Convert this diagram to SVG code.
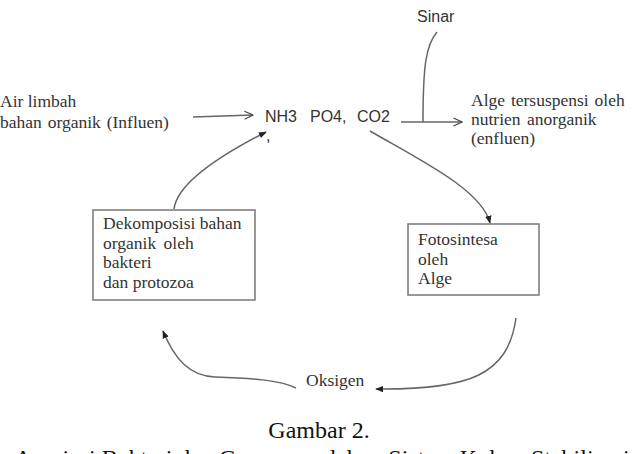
<svg xmlns="http://www.w3.org/2000/svg" width="634" height="454" viewBox="0 0 634 454">
<style>
.serif{font-family:"Liberation Serif","Times New Roman",serif;font-size:17.5px;fill:#333}
.sans{font-family:"Liberation Sans",Arial,sans-serif;font-size:16px;fill:#333}
.cap{font-family:"Liberation Serif","Times New Roman",serif;font-size:24px;fill:#111}
.box{fill:#fff;stroke:#777;stroke-width:1.5}
.ln{fill:none;stroke:#666;stroke-width:1.5}
</style>
<defs>
<marker id="fill" viewBox="0 0 10 10" refX="9" refY="5" markerWidth="8" markerHeight="8" orient="auto" markerUnits="userSpaceOnUse">
<path d="M0,1 L10,5 L0,9 z" fill="#222"/>
</marker>
<marker id="open" viewBox="0 0 10 10" refX="9.5" refY="5" markerWidth="10" markerHeight="10" orient="auto" markerUnits="userSpaceOnUse">
<path d="M1,1 L9.5,5 L1,9" fill="none" stroke="#444" stroke-width="1.2"/>
</marker>
</defs>
<rect width="634" height="454" fill="#fff"/>

<g id="connectors">
<path class="ln" d="M193,117 L253,115" marker-end="url(#open)"/>
<path class="ln" d="M437,32 C426,45 423,65 423,122"/>
<path class="ln" d="M401,122 L462,122" marker-end="url(#open)"/>
<path class="ln" d="M174,209 C177,185 215,158 266,132" marker-end="url(#fill)"/>
<path class="ln" d="M370,131 C420,160 482,190 490,223" marker-end="url(#fill)"/>
<path class="ln" d="M516,318 C508,375 470,390 376,389" marker-end="url(#fill)"/>
<path class="ln" d="M296,388 C280,380 250,378 215,377 C190,376 175,360 163,331" marker-end="url(#fill)"/>
</g>

<g id="influen">
<text class="serif" x="0" y="107">Air limbah</text>
<text class="serif" x="0" y="128" word-spacing="1.5">bahan organik (Influen)</text>
</g>

<g id="nutrien">
<text class="sans" x="265" y="122">NH3</text>
<text class="sans" x="310" y="122">PO4,</text>
<text class="sans" x="357" y="122">CO2</text>
<text class="sans" x="266" y="141" font-size="14">,</text>
</g>

<g id="sinar">
<text class="sans" x="417" y="22">Sinar</text>
</g>

<g id="enfluen">
<text class="serif" x="471" y="106" word-spacing="1.5">Alge tersuspensi oleh</text>
<text class="serif" x="471" y="125" word-spacing="2">nutrien anorganik</text>
<text class="serif" x="471" y="144">(enfluen)</text>
</g>

<g id="dekomposisi">
<rect class="box" x="93" y="210" width="162" height="90"/>
<text class="serif" x="103" y="229">Dekomposisi bahan</text>
<text class="serif" x="103" y="249" word-spacing="3">organik oleh</text>
<text class="serif" x="103" y="268">bakteri</text>
<text class="serif" x="103" y="288">dan protozoa</text>
</g>

<g id="fotosintesa">
<rect class="box" x="408" y="224" width="131" height="71"/>
<text class="serif" x="418" y="245">Fotosintesa</text>
<text class="serif" x="418" y="265">oleh</text>
<text class="serif" x="418" y="284">Alge</text>
</g>

<g id="oksigen">
<text class="serif" x="306" y="386">Oksigen</text>
</g>

<g id="caption">
<text class="cap" x="319" y="438" text-anchor="middle">Gambar 2.</text>
<text class="cap" x="322" y="466" text-anchor="middle">Asosiasi Bakteri dan Ganggang dalam Sistem Kolam Stabilisasi</text>
</g>
</svg>
